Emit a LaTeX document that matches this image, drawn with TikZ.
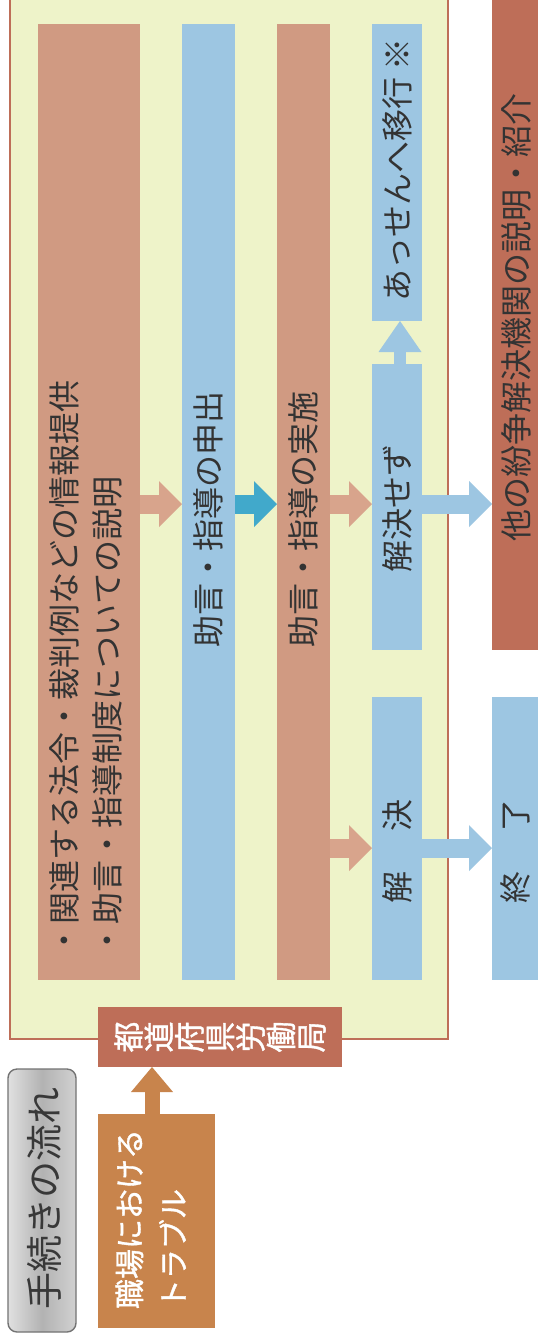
\documentclass[tikz,border=0pt]{standalone}
\usepackage{fontspec}
\setmainfont{Noto Sans CJK JP}
\newfontfamily\jpheavy[FakeBold=1.2]{Noto Sans CJK JP}
\usetikzlibrary{arrows.meta}
\definecolor{yel}{HTML}{EEF3C9}
\definecolor{frameclr}{HTML}{BE6E58}
\definecolor{brnL}{HTML}{D09A82}
\definecolor{brnD}{HTML}{BE6E58}
\definecolor{bluL}{HTML}{9DC6E2}
\definecolor{cyanA}{HTML}{41A9CB}
\definecolor{tanA}{HTML}{D8A48C}
\definecolor{orng}{HTML}{C8844C}
\definecolor{txtc}{HTML}{333333}
\tikzset{
  box/.style={draw=none, inner sep=0pt, outer sep=0pt},
  txt/.style={inner sep=0pt, outer sep=0pt, text=txtc, rotate=90, font=\fontsize{32}{43}\selectfont},
  harrow/.style={line width=19pt, -{Triangle[length=23pt,width=46pt,line width=0pt]}},
}
\begin{document}
\begin{tikzpicture}[x=1pt,y=-1pt]
\useasboundingbox (0,0) rectangle (538,1338);
\fill[white] (0,0) rectangle (538,1338);
% yellow frame
\draw[fill=yel, draw=frameclr, line width=1.6pt] (10,-10) rectangle (448,1039);
% columns
\node[box, fill=brnL, minimum width=102pt, minimum height=956pt] (c1) at (89,502) {};
\node[box, fill=bluL, minimum width=53pt, minimum height=956pt] (c2) at (208.5,502) {};
\node[box, fill=brnL, minimum width=53pt, minimum height=956pt] (c3) at (303.5,502) {};
\node[box, fill=bluL, minimum width=50pt, minimum height=297pt] (c4a) at (397,172.5) {};
\node[box, fill=bluL, minimum width=50pt, minimum height=286pt] (c4b) at (397,507) {};
\node[box, fill=bluL, minimum width=50pt, minimum height=283pt] (c4c) at (397,838.5) {};
\node[box, fill=brnD, minimum width=46pt, minimum height=650pt] (r1) at (515,325) {};
\node[box, fill=bluL, minimum width=46pt, minimum height=283pt] (r2) at (515,838.5) {};
\node[box, fill=brnD, minimum width=244pt, minimum height=60pt] (todo) at (220,1037) {};
\node[box, fill=orng, minimum width=117pt, minimum height=214pt] (shoku) at (156.5,1221) {};
\node[box, draw=black!55, line width=1.4pt, rounded corners=9pt,
      left color=black!12, right color=black!18, middle color=black!30,
      minimum width=68pt, minimum height=263pt] (lbl) at (42,1200.5) {};
% texts
\node[txt, anchor=west] (t1) at (89.5,956) {\begin{tabular}{@{}l@{}}・関連する法令・裁判例などの情報提供\\・助言・指導制度についての説明\end{tabular}};
\node[txt] (t2) at (208.5,519) {助言・指導の申出};
\node[txt] (t3) at (303.5,519) {助言・指導の実施};
\node[txt] (t4a) at (397,170) {あっせんへ移行 ※};
\node[txt] (t4b) at (397,508) {解決せず};
\node[txt] (t4c) at (397,851) {解\hspace{40pt}決};
\node[txt] (tr1) at (516,317) {他の紛争解決機関の説明・紹介};
\node[txt] (tr2) at (515,851) {終\hspace{40pt}了};
\node[txt, text=white, align=center, font=\jpheavy\fontsize{31}{30.5}\selectfont] (ttodo) at (220,1037) {都\\道\\府\\県\\労\\働\\局};
\node[txt, text=white, anchor=west, font=\jpheavy\fontsize{30}{44}\selectfont] (tshoku) at (154,1309) {\begin{tabular}{@{}l@{}}職場における\\トラブル\end{tabular}};
\node[txt, text=black!78, font=\fontsize{37}{40}\selectfont] (tlbl) at (44,1198) {手続きの流れ};
% arrows
\coordinate (ya) at (0,504);
\coordinate (yb) at (0,848);
\coordinate (va) at (400,0);
\coordinate (vb) at (152,0);
\draw[harrow, draw=tanA] (c1.east |- ya) -- (c2.west |- ya);
\draw[harrow, draw=cyanA] (c2.east |- ya) -- (c3.west |- ya);
\draw[harrow, draw=tanA] (c3.east |- ya) -- (c4b.west |- ya);
\draw[harrow, draw=bluL] (c4b.east |- ya) -- (r1.west |- ya);
\draw[harrow, draw=tanA] (c3.east |- yb) -- (c4c.west |- yb);
\draw[harrow, draw=bluL] (c4c.east |- yb) -- (r2.west |- yb);
\draw[line width=12pt, draw=bluL, -{Triangle[length=31pt,width=43pt,line width=0pt]}] (c4b.north -| va) -- (c4a.south -| va);
\draw[line width=15pt, draw=orng, -{Triangle[length=25pt,width=42pt,line width=0pt]}] (shoku.north -| vb) -- (todo.south -| vb);
\end{tikzpicture}
\end{document}
